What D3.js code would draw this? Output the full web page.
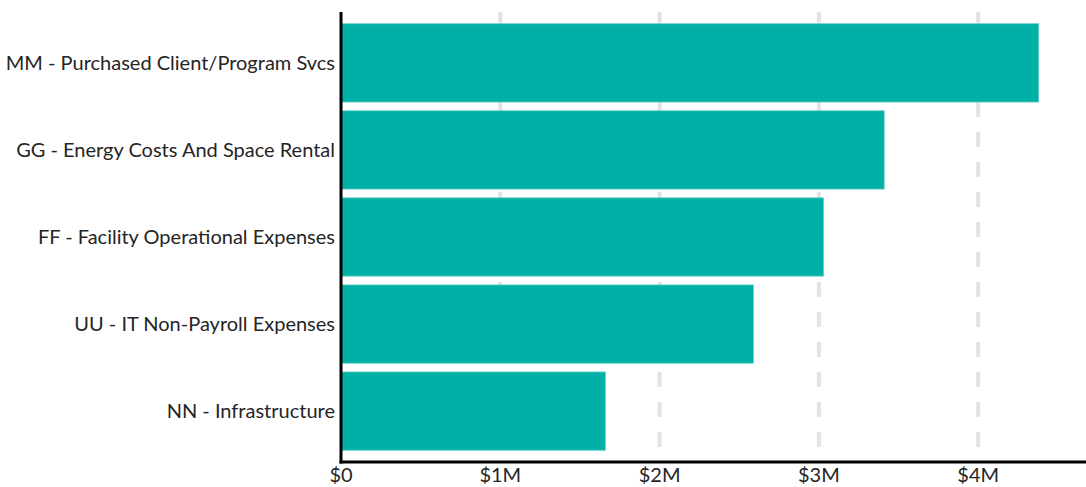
<!DOCTYPE html>
<html><head><meta charset="utf-8">
<script src="https://cdn.jsdelivr.net/npm/d3@7"></script>
<style>
html,body{margin:0;padding:0;background:#fff;}
svg{display:block;}
text{font-family:Lato, "Open Sans", sans-serif;fill:#252525;}
</style></head>
<body>
<svg id="chart" width="1086" height="487"></svg>
<script>
const categories = [
  "MM - Purchased Client/Program Svcs",
  "GG - Energy Costs And Space Rental",
  "FF - Facility Operational Expenses",
  "UU - IT Non-Payroll Expenses",
  "NN - Infrastructure"
];
const values = [4380000, 3410000, 3030000, 2590000, 1660000];
const tickValues = [0, 1000000, 2000000, 3000000, 4000000];
const tickLabels = ["$0", "$1M", "$2M", "$3M", "$4M"];

(function () {
const svg = d3.select("#chart");
const x0 = 341, yTop = 12, yBottom = 462;
const x = d3.scaleLinear().domain([0, 1000000]).range([x0, x0 + 159.3]);
const y = d3.scaleBand().domain(categories).range([15, 459]).paddingInner(0.1).paddingOuter(0.1);

// gridlines
svg.append("g").selectAll("line").data(tickValues.slice(1)).join("line")
  .attr("x1", d => x(d)).attr("x2", d => x(d))
  .attr("y1", yTop).attr("y2", yBottom)
  .attr("stroke", "#e3e3e3").attr("stroke-width", 4)
  .attr("stroke-dasharray", "15,15");

// bars
svg.append("g").selectAll("rect").data(values).join("rect")
  .attr("x", x(0))
  .attr("y", (d, i) => y(categories[i]))
  .attr("width", d => x(d) - x(0))
  .attr("height", y.bandwidth())
  .attr("fill", "#00AFA5")
  .attr("stroke", "#6fd3cc").attr("stroke-width", 0.8);

// y axis line
svg.append("line").attr("x1", x0).attr("x2", x0).attr("y1", yTop).attr("y2", yBottom + 1.5)
  .attr("stroke", "#000").attr("stroke-width", 3);
// x axis line
svg.append("line").attr("x1", x0 - 1.5).attr("x2", 1086).attr("y1", yBottom).attr("y2", yBottom)
  .attr("stroke", "#000").attr("stroke-width", 3);

// x tick labels
svg.append("g").selectAll("text").data(tickValues).join("text")
  .attr("x", d => x(d)).attr("y", 482)
  .attr("text-anchor", "middle")
  .attr("font-size", 20)
  .text((d, i) => tickLabels[i]);

// category labels
svg.append("g").selectAll("text").data(categories).join("text")
  .attr("x", 335).attr("y", d => y(d) + y.bandwidth() / 2)
  .attr("dy", "0.35em")
  .attr("text-anchor", "end")
  .attr("font-size", 20)
  .text(d => d);
})();
</script>
</body></html>
